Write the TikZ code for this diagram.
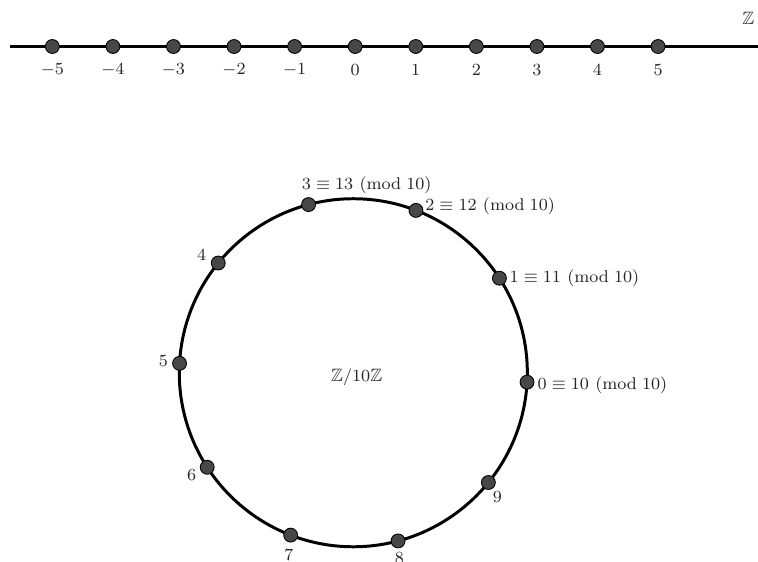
\documentclass[tikz,border=0pt]{standalone}
\usepackage{amsmath,amssymb}
\usepackage{tikz}
\usetikzlibrary{calc}

\begin{document}
\begin{tikzpicture}[x=1cm,y=1cm,
 axis/.style={line width=1.4pt,black},
 dot/.style={circle,draw=black,line width=0.4pt,fill=black!72,inner sep=0pt,minimum size=0.23cm},
 lbl/.style={font=\fontsize{8.4}{10}\selectfont,inner sep=1pt,text=black!85}]
 \useasboundingbox (-5.864,-8.494) rectangle (6.650,0.768);
 % integer line
 \coordinate (lft) at (-5.70,0);
 \coordinate (rgt) at (6.65,0);
 \draw[axis] (lft) -- (rgt);
 \foreach \n in {-5,...,5} {
  \node[dot] (z\n) at (\n,0) {};
  \node[lbl] (zl\n) at (\n,-0.383) {$\n$};
 }
 \node[lbl] (zz) at (6.490,0.466) {$\mathbb{Z}$};
 % residues mod 10
 \coordinate (ctr) at (-0.031,-5.386);
 \draw[axis] (ctr) circle[radius=2.873];
 \foreach \k in {0,...,9}
  \node[dot] (c\k) at ($(ctr)+({36*\k-3.1}:2.873)$) {};
 \node[lbl] (quot) at (0.025,-5.452) {$\mathbb{Z}/10\mathbb{Z}$};
 \node[lbl,anchor=west] (l0) at (2.971,-5.588) {$0\equiv 10\ (\mathrm{mod}\;10)$};
 \node[lbl,anchor=west] (l1) at (2.509,-3.822) {$1\equiv 11\ (\mathrm{mod}\;10)$};
 \node[lbl,anchor=west] (l2) at (1.117,-2.645) {$2\equiv 12\ (\mathrm{mod}\;10)$};
 \node[lbl] (l3) at (0.190,-2.287) {$3\equiv 13\ (\mathrm{mod}\;10)$};
 \node[lbl] (l4) at (-2.534,-3.442) {$4$};
 \node[lbl] (l5) at (-3.168,-5.192) {$5$};
 \node[lbl] (l6) at (-2.699,-7.074) {$6$};
 \node[lbl] (l7) at (-1.093,-8.389) {$7$};
 \node[lbl] (l8) at (0.728,-8.445) {$8$};
 \node[lbl] (l9) at (2.346,-7.443) {$9$};
\end{tikzpicture}
\end{document}
